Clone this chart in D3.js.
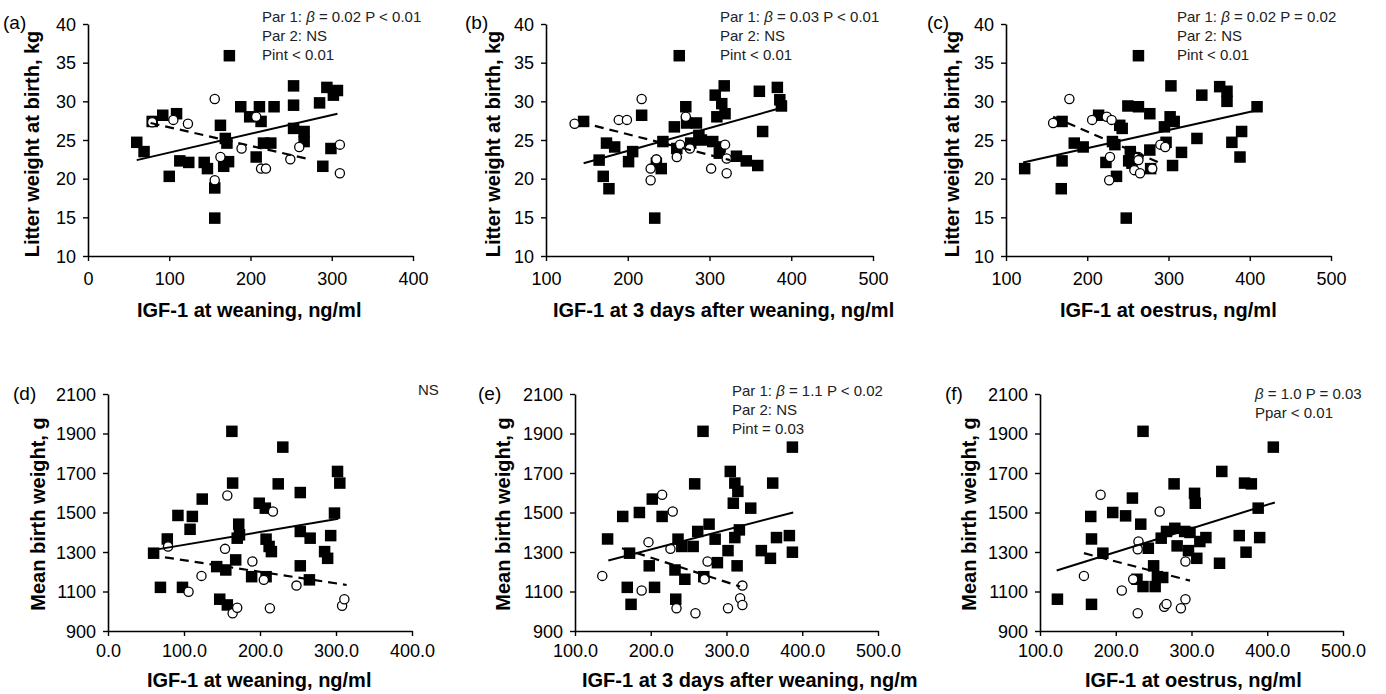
<!DOCTYPE html>
<html>
<head>
<meta charset="utf-8">
<script src="https://cdnjs.cloudflare.com/ajax/libs/d3/7.8.5/d3.min.js"></script>
<style>
body{margin:0;background:#fff}
svg{display:block;font-family:"Liberation Sans",Arial,sans-serif}
</style>
</head>
<body>
<svg></svg>
<script>
// values: [IGF-1, outcome]
// squares = parity 1 sows, circles = parity 2 sows

let aSquares = [[60,24.7],[69,23.5],[79,27.4],[92,28.2],[100,20.3],[109,28.4],[113,22.3],[124,22.1],[143,22.1],[147,21.3],[156,18.8],[156,14.9],[163,26.9],[169,25.2],[171,24.6],[167,21.6],[173,22.2],[174,35.9],[188,29.3],[199,28.0],[207,22.8],[211,29.3],[213,27.4],[216,24.6],[225,24.6],[229,29.3],[253,32.0],[253,29.5],[253,26.5],[266,26.1],[266,24.8],[285,29.8],[289,21.6],[294,31.8],[299,23.9],[302,30.8],[307,31.4]];
let aCircles = [[79,27.3],[105,27.6],[123,27.1],[156,30.3],[156,19.8],[163,22.8],[189,23.9],[207,28.0],[213,21.3],[219,21.3],[249,22.5],[260,24.1],[310,24.4],[310,20.7]];
let aFit1 = [[60,22.4],[307,28.4]];
let aFit2 = [[77,27.2],[269,22.6]];

let bSquares = [[146,27.4],[165,22.4],[170,20.3],[174,24.6],[177,18.7],[184,24.1],[201,22.2],[206,23.5],[217,28.2],[235,22.0],[241,21.3],[233,14.9],[243,24.8],[257,26.7],[260,23.9],[263,35.9],[271,29.3],[272,27.2],[277,24.6],[284,27.2],[287,25.6],[290,25.0],[304,24.8],[307,30.8],[309,28.0],[313,24.1],[315,29.7],[318,32.0],[319,28.4],[312,23.3],[333,22.9],[345,22.3],[359,21.7],[361,31.3],[365,26.1],[383,31.8],[386,30.2],[388,29.4]];
let bCircles = [[135,27.1],[189,27.6],[199,27.6],[217,30.3],[228,21.3],[228,19.8],[235,22.5],[260,22.8],[264,24.4],[271,28.0],[276,23.9],[302,21.3],[319,24.4],[321,22.6],[321,20.7]];
let bFit1 = [[146,22.0],[386,29.1]];
let bFit2 = [[142,27.3],[325,22.4]];

let cSquares = [[123,21.3],[169,27.4],[169,22.3],[168,18.7],[184,24.6],[195,24.1],[214,28.2],[223,22.1],[231,24.8],[234,24.4],[236,20.3],[240,26.9],[243,26.5],[248,14.9],[250,29.4],[253,23.5],[251,22.3],[255,22.0],[263,29.3],[263,35.9],[277,28.4],[277,23.7],[278,21.3],[295,26.7],[297,24.7],[302,28.0],[303,32.0],[305,21.7],[307,27.4],[316,23.4],[335,25.2],[341,30.8],[363,31.9],[372,31.3],[372,30.0],[378,24.7],[388,22.8],[390,26.1],[409,29.3]];
let cCircles = [[158,27.2],[178,30.3],[206,27.6],[224,28.0],[230,27.6],[228,22.8],[227,19.8],[258,21.1],[263,22.8],[263,22.4],[265,20.7],[280,21.3],[290,24.4],[296,24.1]];
let cFit1 = [[121,22.1],[412,28.9]];
let cFit2 = [[158,28.0],[290,22.0]];

let dSquares = [[60,1294],[69,1121],[78,1366],[92,1485],[98,1121],[111,1480],[108,1415],[124,1568],[143,1226],[147,1061],[155,1209],[157,1032],[163,1911],[164,1649],[168,1260],[170,1370],[172,1441],[173,1387],[189,1175],[199,1547],[207,1522],[208,1365],[212,1328],[215,1302],[208,1175],[224,1645],[230,1831],[253,1601],[253,1404],[253,1230],[266,1370],[265,1159],[285,1302],[289,1268],[293,1383],[298,1497],[302,1708],[305,1649]];
let dCircles = [[79,1328],[106,1099],[123,1179],[154,1316],[157,1586],[164,990],[170,1018],[190,1252],[205,1159],[213,1015],[217,1505],[248,1130],[308,1028],[311,1061]];
let dFit1 = [[55,1307],[303,1468]];
let dFit2 = [[75,1273],[314,1133]];

let eSquares = [[143,1366],[163,1480],[169,1121],[172,1294],[174,1035],[185,1500],[198,1230],[202,1568],[205,1121],[215,1480],[232,1209],[233,1061],[236,1365],[241,1328],[245,1162],[256,1328],[258,1645],[262,1404],[269,1911],[270,1175],[277,1441],[285,1365],[288,1246],[302,1307],[305,1708],[311,1649],[309,1547],[315,1607],[311,1373],[317,1412],[314,1230],[332,1522],[346,1307],[358,1268],[361,1649],[366,1373],[383,1383],[387,1831],[387,1299]];
let eCircles = [[136,1179],[188,1105],[197,1350],[215,1590],[229,1505],[226,1316],[234,1015],[259,990],[275,1252],[271,1162],[302,1015],[318,1066],[321,1130],[321,1032]];
let eFit1 = [[144,1257],[388,1500]];
let eFit2 = [[162,1319],[318,1125]];

let fSquares = [[123,1061],[167,1480],[168,1366],[168,1035],[183,1294],[196,1500],[213,1483],[222,1573],[233,1441],[236,1911],[243,1319],[228,1162],[236,1125],[250,1230],[252,1125],[255,1175],[262,1171],[260,1370],[267,1404],[277,1645],[278,1420],[281,1331],[291,1404],[296,1307],[298,1399],[304,1597],[305,1547],[307,1268],[311,1353],[319,1373],[337,1243],[340,1708],[363,1383],[370,1649],[372,1299],[379,1645],[388,1522],[390,1373],[408,1831]];
let fCircles = [[158,1179],[180,1590],[208,1105],[223,1162],[229,990],[230,1353],[229,1314],[258,1505],[264,1023],[267,1037],[286,1015],[292,1061],[292,1252]];
let fFit1 = [[122,1206],[410,1551]];
let fFit2 = [[158,1294],[298,1155]];

// tick labels
let xTicksWeaning = [0,100,200,300,400];
let xTicksLater = [100,200,300,400,500];
let yTicksLitter = [10,15,20,25,30,35,40];
let yTicksMean = [900,1100,1300,1500,1700,1900,2100];

// texts
let panelLetters = ['(a)','(b)','(c)','(d)','(e)','(f)'];
let xTitles = ['IGF-1 at weaning, ng/ml','IGF-1 at 3 days after weaning, ng/ml','IGF-1 at oestrus, ng/ml',
               'IGF-1 at weaning, ng/ml','IGF-1 at 3 days after weaning, ng/m','IGF-1 at oestrus, ng/ml'];
let yTitles = ['Litter weight at birth, kg','Mean birth weight, g'];
let notes = [
  ['Par 1: β = 0.02 P < 0.01','Par 2: NS','Pint < 0.01'],
  ['Par 1: β = 0.03 P < 0.01','Par 2: NS','Pint < 0.01'],
  ['Par 1: β = 0.02 P = 0.02','Par 2: NS','Pint < 0.01'],
  ['NS'],
  ['Par 1: β = 1.1 P < 0.02','Par 2: NS','Pint = 0.03'],
  ['β = 1.0 P = 0.03','Ppar < 0.01']
];

let width = 1386;
let height = 694;

let svg = d3.select('svg').attr('width', width).attr('height', height);

// layout of each panel (pixel boxes)
let panels = [
  {sq:aSquares, ci:aCircles, f1:aFit1, f2:aFit2, xd:[0,400], yd:[10,40], xt:xTicksWeaning, yt:yTicksLitter, fmt:d3.format('d'), pad:11,
   left:88, right:413, top:24, bottom:256, lx:3, ly:29, nx:262, ny:22, ytx:32, yty:144, xtx:137, xty:317, yTitle:0},
  {sq:bSquares, ci:bCircles, f1:bFit1, f2:bFit2, xd:[100,500], yd:[10,40], xt:xTicksLater, yt:yTicksLitter, fmt:d3.format('d'), pad:11,
   left:546, right:873, top:24, bottom:256, lx:465, ly:29, nx:720, ny:22, ytx:493, yty:144, xtx:553, xty:317, yTitle:0},
  {sq:cSquares, ci:cCircles, f1:cFit1, f2:cFit2, xd:[100,500], yd:[10,40], xt:xTicksLater, yt:yTicksLitter, fmt:d3.format('d'), pad:11,
   left:1006, right:1331, top:24, bottom:256, lx:927, ly:29, nx:1177, ny:22, ytx:952, yty:144, xtx:1060, xty:317, yTitle:0},
  {sq:dSquares, ci:dCircles, f1:dFit1, f2:dFit2, xd:[0,400], yd:[900,2100], xt:xTicksWeaning, yt:yTicksMean, fmt:d3.format('.1f'), pad:8,
   left:108, right:412, top:394, bottom:631, lx:13, ly:400, nx:418, ny:395, ytx:38, yty:514, xtx:147, xty:687, yTitle:1},
  {sq:eSquares, ci:eCircles, f1:eFit1, f2:eFit2, xd:[100,500], yd:[900,2100], xt:xTicksLater, yt:yTicksMean, fmt:d3.format('.1f'), pad:8,
   left:575, right:878, top:394, bottom:631, lx:478, ly:400, nx:732, ny:396, ytx:503, yty:514, xtx:582, xty:687, yTitle:1},
  {sq:fSquares, ci:fCircles, f1:fFit1, f2:fFit2, xd:[100,500], yd:[900,2100], xt:xTicksLater, yt:yTicksMean, fmt:d3.format('.1f'), pad:8,
   left:1040, right:1343, top:394, bottom:631, lx:945, ly:400, nx:1255, ny:399, ytx:969, yty:514, xtx:1085, xty:687, yTitle:1}
];

let styleAxis = (g) => {
  g.attr('font-family', null).attr('font-size', null)
  g.select('.domain').attr('stroke', '#000').attr('stroke-width', 1.6)
  g.selectAll('.tick line').attr('stroke', '#000').attr('stroke-width', 1.4)
  g.selectAll('.tick text').attr('fill', '#000').style('font-size', '18px')
}

let drawPanel = (p, i) => {
  let xScale = d3.scaleLinear().domain(p.xd).range([p.left, p.right])
  let yScale = d3.scaleLinear().domain(p.yd).range([p.bottom, p.top])
  let g = svg.append('g')

  // markers: squares first, circles over them
  g.selectAll('rect')
   .data(p.sq)
   .enter()
   .append('rect')
   .attr('x', (d) => xScale(d[0]) - 5.75)
   .attr('y', (d) => yScale(d[1]) - 5.75)
   .attr('width', 11.5)
   .attr('height', 11.5)
   .attr('fill', '#000')

  g.selectAll('circle')
   .data(p.ci)
   .enter()
   .append('circle')
   .attr('cx', (d) => xScale(d[0]))
   .attr('cy', (d) => yScale(d[1]))
   .attr('r', 4.6)
   .attr('fill', '#fff')
   .attr('stroke', '#000')
   .attr('stroke-width', 1.3)

  let line = d3.line().x((d) => xScale(d[0])).y((d) => yScale(d[1]))
  g.append('path').attr('d', line(p.f1)).attr('stroke', '#000').attr('stroke-width', 2).attr('fill', 'none')
  g.append('path').attr('d', line(p.f2)).attr('stroke', '#000').attr('stroke-width', 2.2)
   .attr('stroke-dasharray', '9,6').attr('fill', 'none')

  let xAxis = d3.axisBottom(xScale).tickValues(p.xt).tickFormat(p.fmt).tickSize(5).tickSizeOuter(0).tickPadding(p.pad)
  let yAxis = d3.axisLeft(yScale).tickValues(p.yt).tickFormat(d3.format('d')).tickSize(5).tickSizeOuter(0).tickPadding(7)
  g.append('g').attr('transform', 'translate(0,' + p.bottom + ')').call(xAxis).call(styleAxis)
  g.append('g').attr('transform', 'translate(' + p.left + ',0)').call(yAxis).call(styleAxis)
    .selectAll('.tick text').attr('dy', '0.34em')

  // panel letter
  g.append('text').attr('x', p.lx).attr('y', p.ly).text(panelLetters[i])
   .style('font-size', '19px').attr('fill', '#000')

  // axis titles
  g.append('text').attr('x', p.xtx).attr('y', p.xty).text(xTitles[i])
   .style('font-size', '20px').style('font-weight', 'bold').attr('fill', '#000')
  g.append('text').attr('transform', 'translate(' + p.ytx + ',' + p.yty + ') rotate(-90)')
   .attr('text-anchor', 'middle').attr('dy', '0.35em').text(yTitles[p.yTitle])
   .style('font-size', '20px').style('font-weight', 'bold').attr('fill', '#000')

  // statistics note, beta in italics
  notes[i].forEach((s, k) => {
    let t = g.append('text').attr('x', p.nx).attr('y', p.ny + k * 19)
             .style('font-size', '15px').attr('fill', '#222')
    let parts = s.split('β')
    t.append('tspan').text(parts[0])
    if (parts.length > 1) {
      t.append('tspan').style('font-style', 'italic').text('β')
      t.append('tspan').text(parts[1])
    }
  })
}

panels.forEach(drawPanel)
</script>
</body>
</html>
